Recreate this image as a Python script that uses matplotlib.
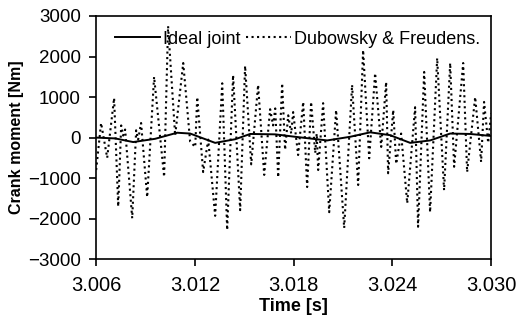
import numpy as np
import matplotlib.pyplot as plt

plt.rcParams['font.family'] = ['Liberation Sans', 'DejaVu Sans']

# Dubowsky & Freudenstein model - peaks
t_dub = [3.00600, 3.00630, 3.00667, 3.00709, 3.00734, 3.00752, 3.00764, 3.00776,
         3.00819, 3.00843, 3.00855, 3.00873, 3.00910, 3.00952, 3.01013, 3.01037,
         3.01080, 3.01129, 3.01171, 3.01202, 3.01214, 3.01250, 3.01281, 3.01323,
         3.01366, 3.01396, 3.01432, 3.01475, 3.01505, 3.01542, 3.01584, 3.01621,
         3.01657, 3.01675, 3.01688, 3.01706, 3.01730, 3.01748, 3.01767, 3.01785,
         3.01797, 3.01827, 3.01858, 3.01882, 3.01906, 3.01931, 3.01940, 3.01949,
         3.01979, 3.02016, 3.02058, 3.02107, 3.02155, 3.02192, 3.02222, 3.02259,
         3.02295, 3.02332, 3.02362, 3.02374, 3.02405, 3.02423, 3.02453, 3.02490,
         3.02538, 3.02556, 3.02593, 3.02629, 3.02672, 3.02714, 3.02751, 3.02775,
         3.02830, 3.02854, 3.02903, 3.02939, 3.02957, 3.02982, 3.03000]
m_dub = [-800, 360, -500, 975, -1700, 300, 50, 200,
         -1990, 180, -50, 360, -1470, 1500, -970, 2750,
         50, 1840, -100, -230, 1000, -850, -50, -1930,
         1340, -2280, 1540, -1790, 1770, -660, 1300, -920,
         700, 300, 720, -980, 1340, -300, 550, 100,
         630, -430, 880, -1220, 880, -380, 100, -800,
         850, -1840, 680, -2230, 1300, -1170, 2160, -510,
         1590, -230, 1370, -880, 680, -650, 100, -1620,
         750, -2200, 1620, -1840, 1960, -1300, 1840, -720,
         1840, -850, 1000, -600, 880, -130, 600]

# ideal joint
t_ideal = [3.00600, 3.00715, 3.00825, 3.00958, 3.01092, 3.01171, 3.01323, 3.01445,
           3.01536, 3.01688, 3.01809, 3.02004, 3.02143, 3.02265, 3.02386, 3.02508,
           3.02629, 3.02751, 3.02872, 3.03000]
m_ideal = [0, -20, -110, -30, 120, 100, -130, -40,
           90, 80, 20, -70, 20, 130, 60, -130,
           -70, 100, 90, 40]

fig = plt.figure(figsize=(5.17, 3.2), dpi=100)
ax = fig.add_axes([0.186, 0.19, 0.764, 0.76])

ax.plot(t_ideal, m_ideal, color='black', lw=1.4, label='Ideal joint')
ax.plot(t_dub, m_dub, color='black', lw=1.5, ls=':', label='Dubowsky & Freudens.')

ax.set_xlim(3.006, 3.030)
ax.set_ylim(-3000, 3000)
ax.set_xticks([3.006, 3.012, 3.018, 3.024, 3.030])
ax.set_xticklabels(['3.006', '3.012', '3.018', '3.024', '3.030'])
ax.set_yticks(np.arange(-3000, 3001, 1000))
ax.tick_params(direction='out', length=5, width=1.2, colors='black')
ax.tick_params(axis='x', labelsize=14.5, pad=7)
ax.tick_params(axis='y', labelsize=13.5, pad=6)
for s in ax.spines.values():
    s.set_linewidth(1.2)

ax.set_xlabel('Time [s]', fontsize=13, fontweight='bold', labelpad=2)
ax.set_ylabel('Crank moment [Nm]', fontsize=11.5, fontweight='bold', labelpad=3)

ax.legend(loc='upper left', bbox_to_anchor=(0.048, 0.94), ncol=2, frameon=False,
          fontsize=13, handlelength=2.5, handletextpad=0.15, columnspacing=0.3,
          borderaxespad=0, borderpad=0)

fig.savefig('out.png', dpi=100)
